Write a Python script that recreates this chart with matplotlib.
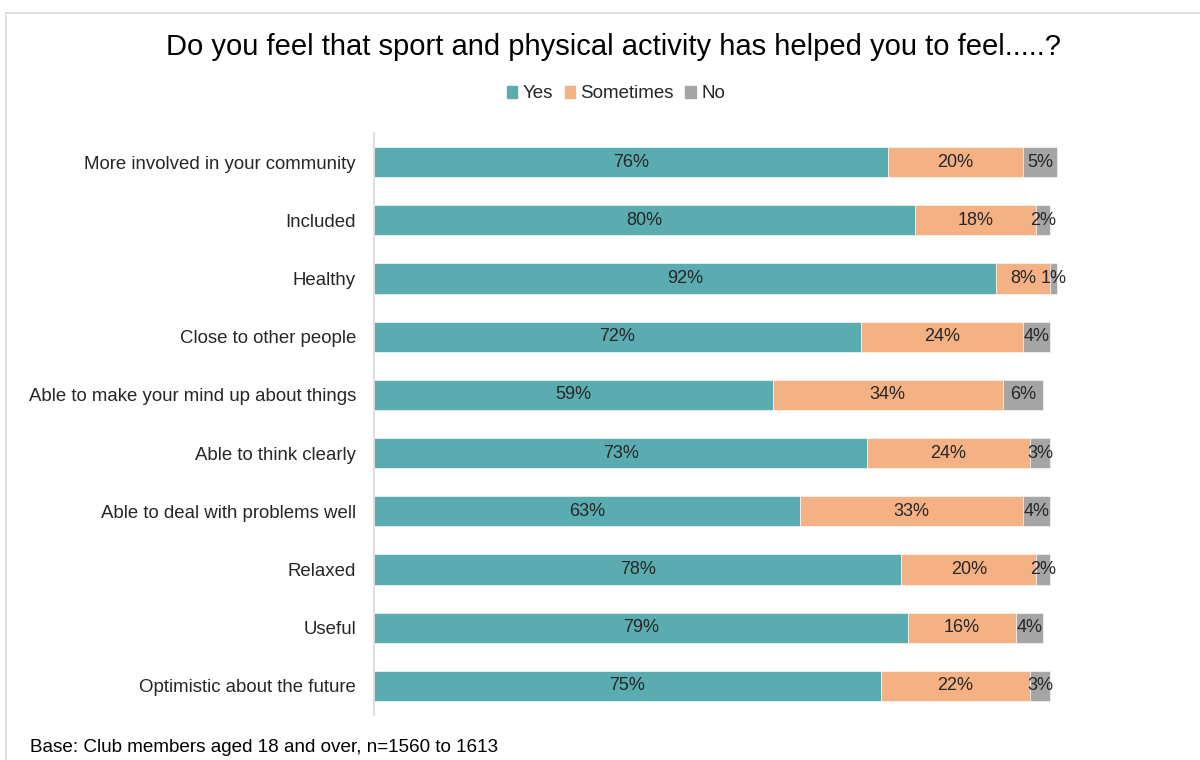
import matplotlib
matplotlib.use("Agg")
import matplotlib.pyplot as plt
from matplotlib.lines import Line2D

plt.rcParams['font.family'] = ['Liberation Sans', 'DejaVu Sans']

categories = [
    "More involved in your community",
    "Included",
    "Healthy",
    "Close to other people",
    "Able to make your mind up about things",
    "Able to think clearly",
    "Able to deal with problems well",
    "Relaxed",
    "Useful",
    "Optimistic about the future",
]
yes = [76, 80, 92, 72, 59, 73, 63, 78, 79, 75]
sometimes = [20, 18, 8, 24, 34, 24, 33, 20, 16, 22]
no = [5, 2, 1, 4, 6, 3, 4, 2, 4, 3]

series_names = ["Yes", "Sometimes", "No"]
colors = ["#5BACB0", "#F4B183", "#A5A5A5"]

fig = plt.figure(figsize=(12, 7.6), dpi=100)
ax = fig.add_axes([374 / 1200, 1 - 715 / 760, (6.76 * 102) / 1200, (715 - 133) / 760])

ypos = list(range(len(categories)))
left = [0] * len(categories)
for name, vals, col in zip(series_names, [yes, sometimes, no], colors):
    ax.barh(ypos, vals, left=left, height=0.52, color=col, label=name,
            edgecolor="white", linewidth=0.4)
    for y, l, v in zip(ypos, left, vals):
        ax.text(l + v / 2, y, f"{v}%", ha="center", va="center",
                fontsize=13, color="#262626")
    left = [a + b for a, b in zip(left, vals)]

ax.set_xlim(0, 102)
ax.set_ylim(len(categories) - 0.5, -0.5)
ax.set_yticks(ypos)
ax.set_yticklabels(categories, fontsize=13.4, color="#262626")
ax.tick_params(axis="y", length=0, pad=13)
ax.set_xticks([])
for s in ["top", "right", "bottom"]:
    ax.spines[s].set_visible(False)
ax.spines["left"].set_color("#D9D9D9")
ax.spines["left"].set_linewidth(1.2)

fig.text(614 / 1200, 1 - 47 / 760, "Do you feel that sport and physical activity has helped you to feel.....?",
         ha="center", va="center", fontsize=21, color="black")

handles = [plt.Rectangle((0, 0), 1, 1, color=c) for c in colors]
fig.legend(handles, series_names, loc="center", bbox_to_anchor=(616 / 1200, 1 - 94 / 760),
           ncol=3, frameon=False, fontsize=13.5, handlelength=0.55, handleheight=0.55,
           handletextpad=0.3, columnspacing=0.6, labelcolor="#262626")

fig.text(30 / 1200, 1 - 748 / 760, "Base: Club members aged 18 and over, n=1560 to 1613",
         ha="left", va="center", fontsize=13.6, color="black")

# light outer frame
fig.add_artist(Line2D([6 / 1200, 1.0], [1 - 13 / 760, 1 - 13 / 760], transform=fig.transFigure,
                      color="#D9D9D9", linewidth=1.2))
fig.add_artist(Line2D([6 / 1200, 6 / 1200], [0, 1 - 13 / 760], transform=fig.transFigure,
                      color="#D9D9D9", linewidth=1.2))

fig.savefig("out.png", dpi=100, facecolor="white")
